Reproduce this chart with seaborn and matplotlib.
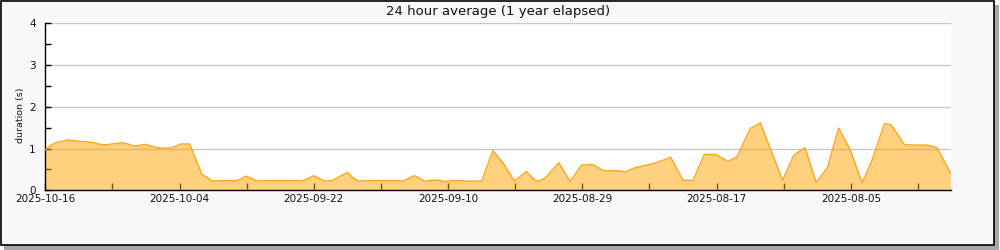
import matplotlib
matplotlib.use("Agg")
import matplotlib.pyplot as plt
from matplotlib.patches import Rectangle
import seaborn as sns
import pandas as pd
import numpy as np

# ---- data ----
latest_date = "2025-10-16"
days_ago = [0.0, 0.5, 1.0, 1.5, 2.0, 2.5, 3.1, 3.7, 4.3, 4.9, 5.4, 6.0, 6.5, 6.9, 7.5,
            7.9, 8.5, 8.9, 9.4, 10.0, 10.5, 11.1, 11.7, 12.1, 12.9, 14.0, 14.4, 14.7,
            15.0, 15.6, 17.1, 17.4, 17.9, 18.3, 18.9, 19.5, 22.5, 22.9, 23.4, 24.0,
            24.4, 25.0, 25.6, 26.0, 26.3, 27.0, 27.5, 28.0, 28.6, 31.4, 32.0, 32.4,
            33.0, 33.5, 33.9, 34.5, 35.3, 35.6, 36.5, 37.4, 37.5, 39.0, 40.0, 40.9,
            41.9, 42.2, 43.0, 43.6, 44.0, 44.7, 45.4, 45.9, 46.9, 47.5, 47.9, 48.7,
            49.0, 49.9, 51.1, 51.8, 52.7, 53.7, 54.6, 55.9, 57.0, 57.9, 58.9, 59.9,
            61.0, 61.8, 63.0, 63.7, 63.9, 65.9, 66.9, 67.9, 68.9, 69.9, 70.9, 71.9,
            73.0, 73.9, 75.0, 75.6, 76.8, 78.9, 79.7, 80.9]
duration_s = [0.97, 1.08, 1.15, 1.17, 1.21, 1.19, 1.17, 1.16, 1.14, 1.10, 1.09, 1.11, 1.13,
              1.14, 1.10, 1.06, 1.08, 1.10, 1.06, 1.02, 1.01, 1.01, 1.06, 1.11, 1.11,
              0.38, 0.32, 0.26, 0.22, 0.23, 0.23, 0.26, 0.34, 0.30, 0.22, 0.23, 0.23,
              0.22, 0.27, 0.35, 0.29, 0.22, 0.23, 0.28, 0.33, 0.43, 0.30, 0.22, 0.23,
              0.23, 0.22, 0.28, 0.35, 0.28, 0.22, 0.24, 0.24, 0.21, 0.23, 0.23, 0.22,
              0.22, 0.95, 0.66, 0.23, 0.28, 0.45, 0.28, 0.21, 0.30, 0.51, 0.66, 0.21,
              0.44, 0.60, 0.62, 0.61, 0.47, 0.47, 0.44, 0.54, 0.60, 0.66, 0.79, 0.24,
              0.24, 0.86, 0.86, 0.70, 0.79, 1.48, 1.58, 1.62, 0.24, 0.84, 1.02, 0.19,
              0.54, 1.49, 1.00, 0.18, 0.72, 1.60, 1.57, 1.09, 1.08, 1.02, 0.42]
major_tick_labels = ["2025-10-16", "2025-10-04", "2025-09-22", "2025-09-10",
                     "2025-08-29", "2025-08-17", "2025-08-05"]
minor_tick_dates = ["2025-10-10", "2025-09-28", "2025-09-16", "2025-09-04",
                    "2025-08-23", "2025-08-11", "2025-07-30"]
y_ticks = [0, 1, 2, 3, 4]
title = "24 hour average (1 year elapsed)"
y_label = "duration (s)"

end = pd.Timestamp(latest_date)
df = pd.DataFrame({
    "time": end - pd.to_timedelta(days_ago, unit="D"),
    "duration": duration_s,
})

sns.set_theme(style="white")
plt.rcParams["font.family"] = ["DejaVu Sans"]

fig = plt.figure(figsize=(10, 2.5), dpi=100)
fig.patch.set_facecolor("#f8f8f8")

# frame with drop shadow
fig.patches.append(Rectangle((4 / 1000, 0.5 / 250), 994.5 / 1000, 1 - 5 / 250,
                             transform=fig.transFigure, facecolor="#a8a8a8",
                             edgecolor="none", zorder=-2))
fig.patches.append(Rectangle((0.5 / 1000, 1 - 244.5 / 250), 993.5 / 1000, 244 / 250,
                             transform=fig.transFigure, facecolor="#f8f8f8",
                             edgecolor="black", linewidth=1.2, zorder=-1))

ax = fig.add_axes([45.3 / 1000, 1 - 190.3 / 250, 905.7 / 1000, 167 / 250])
ax.set_facecolor("white")

ax.fill_between(df["time"], df["duration"], 0, color="#ffa500", alpha=0.5,
                linewidth=0, zorder=2)
sns.lineplot(data=df, x="time", y="duration", ax=ax, color="#ffa41a",
             linewidth=1.0, zorder=3)

ax.set_xlim(end, end - pd.Timedelta(days=80.95))
ax.set_ylim(0, 4)

ax.set_xticks(pd.to_datetime(major_tick_labels))
ax.set_xticklabels(major_tick_labels)
ax.set_xticks(pd.to_datetime(minor_tick_dates), minor=True)
ax.set_yticks(y_ticks)
ax.set_yticklabels([str(v) for v in y_ticks])
ax.set_yticks(np.arange(0.5, 4, 1.0), minor=True)

ax.tick_params(axis="both", which="both", direction="in", color="black",
               labelsize=7.5, labelcolor="#111111")
ax.tick_params(axis="x", which="both", length=5, width=1, pad=3)
ax.tick_params(axis="y", which="both", length=4, width=1, pad=7)
ax.tick_params(bottom=True, left=True, which="both")

ax.grid(axis="y", which="major", color="#c8c8c8", linewidth=1)
ax.grid(axis="x", visible=False)
ax.set_axisbelow(True)

for side in ["top", "right"]:
    ax.spines[side].set_visible(False)
for side in ["left", "bottom"]:
    ax.spines[side].set_color("black")
    ax.spines[side].set_linewidth(1)

ax.set_xlabel("")
ax.set_ylabel("")
fig.text(20 / 1000, 1 - 115 / 250, y_label, rotation=90, ha="center", va="center",
         fontsize=6.8, color="#111111")
fig.text(0.498, 1 - 11 / 250, title, ha="center", va="center", fontsize=9.5,
         color="#111111")

fig.savefig("out.png", dpi=100, facecolor=fig.get_facecolor())
